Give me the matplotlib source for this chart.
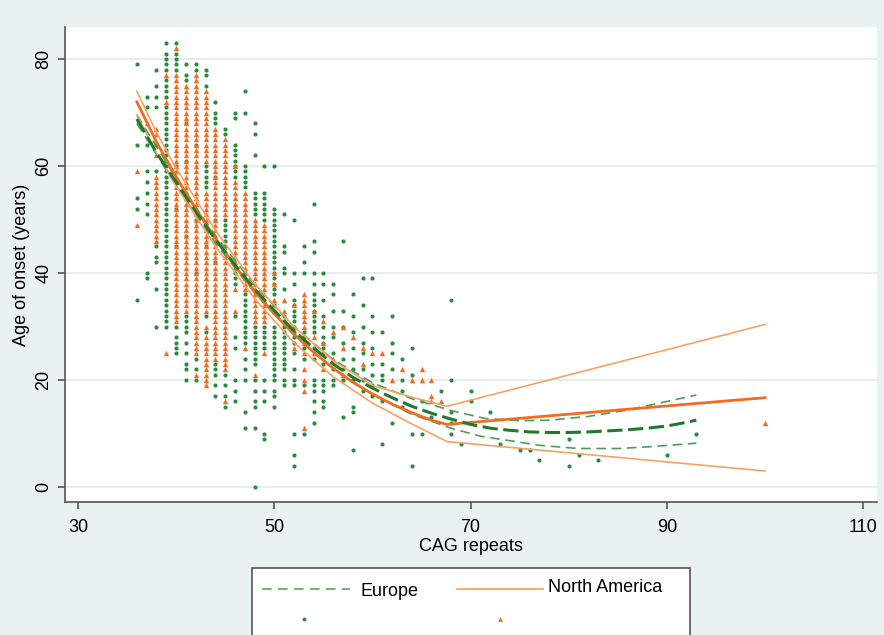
import numpy as np
import matplotlib
matplotlib.use("Agg")
import matplotlib.pyplot as plt
from matplotlib.lines import Line2D
from matplotlib.patches import Rectangle

plt.rcParams['font.family'] = ['Liberation Sans', 'DejaVu Sans']
plt.rcParams['lines.scale_dashes'] = False

# ---- scatter data: CAG column -> ages ("a-b" = every year from a down to b)
eu_cag = [36, 37, 38, 39, 40, 41, 42, 43, 44, 45, 46, 47, 48, 49, 50, 51, 52, 53,
          54, 55, 56, 57, 58, 59, 60, 61, 62, 63, 64, 65, 66, 67, 68, 69, 70, 72,
          73, 75, 76, 77, 80, 81, 83, 90, 93]
eu_ages = [
    "79 64 54 52 35",
    "73 71 64 59 57 55 53 51 40 39",
    "78 75 73 71 64 59 45 43 42 37 30",
    "83 81-78 76-73 71-30",
    "83 81-78 60 52 45 30 28-25",
    "79 77 76 68 61 55 47 32-29 27 25 23 22 20",
    "79 78 64 50 40 24 22 20",
    "78 77 75 60-56 45 32 29",
    "72 70-68 58 50 42 23-21 19 17",
    "67 66 50-44 21 19 17 15",
    "70 69 64-58 40-38 32 28 26 20 18 16",
    "74 70 60-56 36-27 24 22 20 14 11",
    "68 66 62 55-51 30-23 20 18 16 15 11 0",
    "60 55-50 30-26 20 18 16 10 9",
    "60 52-36 34 30-21 20 18 17 15",
    "51 45 44 41 40 37 32-22 20 19",
    "50 40 38 35-27 25 22 20 19 10 6 4",
    "45 42 40 29 28 26 24 19 10",
    "53 46 44 40 38 36-29 26 24 20 19 18 16 14 12",
    "40 38 35 32 30 28-25 23 20 19 18 16 15",
    "38 36 33 30 28 25 22 20 19",
    "46 33 30 27 24 22 20 13",
    "36 32 29 26 24 22 20 15 14 7",
    "39 34 30 27 25 22 20 18",
    "39 32 29 26 23 21 19 17",
    "29 23 21 20 16 8",
    "32 27 25 22 12",
    "24 20 18 15",
    "26 21 10 4",
    "16 10",
    "13",
    "18",
    "35 20 14 12 10",
    "8",
    "18 16 12",
    "14",
    "8",
    "7",
    "7",
    "5",
    "9 4",
    "6",
    "5",
    "6",
    "10",
]

na_cag = [36, 37, 38, 39, 40, 41, 42, 43, 44, 45, 46, 47, 48, 49, 50, 51, 52, 53,
          54, 55, 56, 57, 58, 59, 60, 61, 62, 63, 64, 65, 66, 67, 100]
na_ages = [
    "59 49",
    "68",
    "67 66 62 58-46",
    "77 72 25",
    "82 77-31",
    "75-33",
    "77-25 21",
    "74-61 55-33 30 28-19",
    "67-24",
    "65-51 43-22 16",
    "60 57-41 37 33",
    "55-37 26",
    "50-31 21",
    "49-31 25",
    "40 38 35 33",
    "35 33",
    "34 30 26",
    "36-30 27 25 22 20 18 11",
    "33 28 25",
    "31 27 22",
    "29 24",
    "30 26 21",
    "28",
    "26 23",
    "25",
    "25",
    "20",
    "22",
    "20",
    "22 20",
    "20 17 16",
    "16",
    "12",
]

# ---- fitted curves with confidence bands
na_fit_x = [36, 38, 40, 42, 44, 46, 48, 50, 52, 54, 56, 58, 60, 62, 64, 66, 67.6, 100]
na_fit = [72, 64.5, 58, 52, 46.5, 41.3, 36.6, 32.4, 28.6, 25.2, 22.2, 19.6, 17.4,
          15.5, 13.9, 12.5, 11.7, 16.7]
na_hi_x = [36, 38, 40, 44, 48, 52, 56, 60, 64, 67.6, 100]
na_hi = [74, 66.3, 59.6, 48, 38, 30, 23.6, 19, 16.8, 15.1, 30.4]
na_lo_x = [36, 38, 40, 44, 48, 52, 56, 60, 64, 67.6, 100]
na_lo = [69.5, 62.5, 56.3, 45, 35.2, 27, 20.6, 15.7, 11.8, 8.5, 3.0]

eu_fit_x = [36, 38, 40, 42, 44, 46, 48, 50, 52, 54, 56, 58, 60, 62, 64, 66, 68, 70,
            72, 74, 76, 78, 80, 82, 84, 86, 88, 90, 92, 93]
eu_fit = [68.8, 62.5, 57, 51.5, 46.3, 41.5, 37, 33, 29.2, 26, 23, 20.5, 18.5, 16.7,
          15.1, 13.8, 12.7, 11.7, 11, 10.6, 10.3, 10.2, 10.2, 10.3, 10.5, 10.7, 11.0,
          11.4, 12.1, 12.5]
eu_hi_x = [36, 40, 44, 48, 52, 56, 60, 64, 68, 71.5, 75, 78, 82, 86, 90, 93]
eu_hi = [69.6, 57.7, 47, 37.7, 30, 23.8, 19.5, 16.5, 14.3, 12.8, 12.4, 12.5, 13.2,
         14.4, 16, 17.2]
eu_lo_x = [36, 40, 44, 48, 52, 56, 60, 64, 68, 71, 73.5, 77, 81, 85, 88, 93]
eu_lo = [68, 56.3, 45.6, 36.3, 28.4, 22.2, 17.3, 13.6, 11, 9.5, 8.8, 7.8, 7.2, 7.2,
         7.5, 8.2]

x_ticks = [30, 50, 70, 90, 110]
y_ticks = [0, 20, 40, 60, 80]

GREEN = '#2b8a3e'
ORANGE = '#f26b1f'
LIGHT_ORANGE = '#f6a266'
LIGHT_GREEN = '#4f9e55'


def expand(cags, specs):
    xs, ys = [], []
    for c, s in zip(cags, specs):
        for tok in s.split():
            if '-' in tok:
                a, b = map(int, tok.split('-'))
                vals = list(range(b, a + 1))
            else:
                vals = [int(tok)]
            xs += [c] * len(vals)
            ys += vals
    return np.array(xs), np.array(ys)


eu_x, eu_y = expand(eu_cag, eu_ages)
na_x, na_y = expand(na_cag, na_ages)

fig = plt.figure(figsize=(8.84, 6.35), dpi=100, facecolor='#e9f1f1')
ax = fig.add_axes([65 / 884, 1 - 502 / 635, (877 - 65) / 884, (502 - 27) / 635])
ax.set_facecolor('white')
ax.set_xlim(28.68, 111.4)
ax.set_ylim(-2.8, 86)

for yv in y_ticks:
    ax.axhline(yv, color='#e4eded', lw=1.3, zorder=0)

ax.scatter(eu_x, eu_y, s=9, marker='o', color=GREEN, linewidths=0, zorder=2)
ax.scatter(na_x, na_y, s=15, marker='^', color=ORANGE, linewidths=0, zorder=3)

ax.plot(eu_hi_x, eu_hi, color=LIGHT_GREEN, lw=1.2, dashes=(7, 4), zorder=4)
ax.plot(eu_lo_x, eu_lo, color=LIGHT_GREEN, lw=1.2, dashes=(7, 4), zorder=4)
ax.plot(na_hi_x, na_hi, color=LIGHT_ORANGE, lw=1.2, zorder=4)
ax.plot(na_lo_x, na_lo, color=LIGHT_ORANGE, lw=1.2, zorder=4)
ax.plot(na_fit_x, na_fit, color=ORANGE, lw=2.0, zorder=5)
ax.plot(eu_fit_x, eu_fit, color='#23782f', lw=2.2, dashes=(11, 4), zorder=6)

ax.set_xticks(x_ticks)
ax.set_yticks(y_ticks)
ax.tick_params(direction='out', length=5, width=1.2, color='#555555',
               labelsize=13)
ax.tick_params(axis='x', pad=7)
ax.tick_params(axis='y', pad=4)
for lab in ax.get_yticklabels():
    lab.set_rotation(90)
    lab.set_va('center')
for side in ['top', 'right']:
    ax.spines[side].set_visible(False)
for side in ['left', 'bottom']:
    ax.spines[side].set_color('#555555')
    ax.spines[side].set_linewidth(1.2)

ax.set_xlabel('CAG repeats', fontsize=13, labelpad=2)
ax.set_ylabel('Age of onset (years)', fontsize=13, labelpad=4)

# ---- legend drawn by hand (box is cut at the bottom edge)
fig.add_artist(Rectangle((252 / 884, -0.05), (690 - 252) / 884, 0.05 + 1 - 568 / 635,
                         transform=fig.transFigure, facecolor='white',
                         edgecolor='#555555', lw=1.2))


def fx(px):
    return px / 884


def fy(py):
    return 1 - py / 635


fig.add_artist(Line2D([fx(262), fx(350)], [fy(589), fy(589)], color='#6aaa6a',
                      lw=1.3, dashes=(7, 4.5), transform=fig.transFigure))
fig.text(fx(360), fy(591), 'Europe', fontsize=13, va='center', ha='left')
fig.add_artist(Line2D([fx(457), fx(543)], [fy(589), fy(589)], color=LIGHT_ORANGE,
                      lw=1.3, transform=fig.transFigure))
fig.text(fx(548), fy(588), 'North America', fontsize=13, va='center', ha='left')
fig.add_artist(Line2D([fx(304)], [fy(619)], marker='o', markersize=2.8, color=GREEN,
                      markeredgewidth=0, lw=0, transform=fig.transFigure))
fig.add_artist(Line2D([fx(500)], [fy(619)], marker='^', markersize=3.5, color=ORANGE,
                      markeredgewidth=0, lw=0, transform=fig.transFigure))

fig.savefig('out.png', dpi=100, facecolor=fig.get_facecolor())
